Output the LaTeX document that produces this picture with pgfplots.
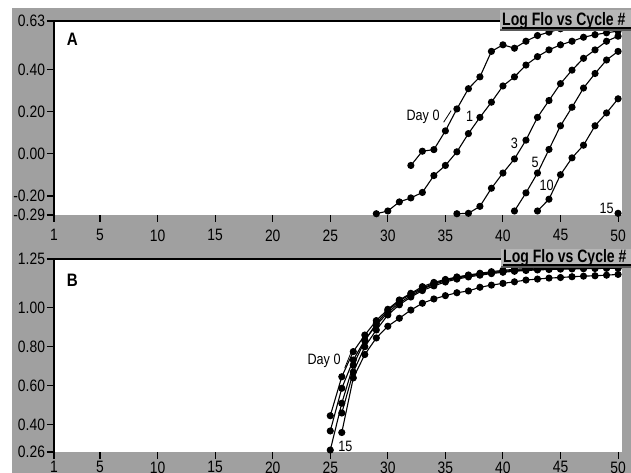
\documentclass[border=0pt]{standalone}
\usepackage{fontspec}
\setmainfont{Liberation Sans}[FakeStretch=0.84]
\newfontfamily\titlefont{Liberation Sans}[FakeStretch=0.78]
\usepackage{pgfplots}
\pgfplotsset{compat=1.18}
\definecolor{bggray}{RGB}{160,160,160}
\definecolor{boxgray}{RGB}{182,182,182}
\definecolor{shadow}{RGB}{90,90,90}

\pgfplotsset{
  panel/.style={
    scale only axis, width=567.5pt,
    xmin=1, xmax=50.3,
    axis background/.style={fill=white},
    axis line style={draw=none},
    xtick={1,5,10,15,20,25,30,35,40,45,50},
    xticklabels={1,5,10,15,20,25,30,35,40,45,50},
    tick align=outside, major tick length=7pt,
    xtick pos=bottom, ytick pos=left,
    tick style={black, line width=1.1pt},
    ticklabel style={font=\fontsize{16.5}{16.5}\selectfont},
    yticklabel style={xshift=1.5pt},
    clip=false,
    every axis plot post/.append style={black, line width=1.1pt, mark=*, mark size=3pt, mark options={solid}},
  }
}

\begin{document}
\begin{tikzpicture}
\useasboundingbox (0pt,0pt) rectangle (631pt,473pt);
\fill[white] (0pt,0pt) rectangle (631pt,473pt);
\fill[bggray] (12pt,0pt) rectangle (640pt,465pt);

% ---------------- Panel A ----------------
\begin{axis}[panel, at={(54pt,258pt)}, anchor=south west, height=194pt,
  xticklabel style={yshift=-4pt},
  ymin=-0.29, ymax=0.63,
  ytick={-0.29,-0.2,0,0.2,0.4,0.63},
  yticklabels={-0.29,-0.20,0.00,0.20,0.40,0.63}]
\addplot coordinates {(32,-0.055)(33,0.0125)(34,0.02)(35,0.109)(36,0.213)(37,0.309)(38,0.365)(39,0.486)(40,0.517)(41,0.501)(42,0.534)(43,0.561)(44,0.577)(45,0.593)(46,0.603)(47,0.600)(48,0.610)(49,0.615)(50,0.620)};
\addplot coordinates {(29,-0.284)(30,-0.271)(31,-0.228)(32,-0.209)(33,-0.183)(34,-0.103)(35,-0.055)(36,0.0096)(37,0.096)(38,0.173)(39,0.245)(40,0.322)(41,0.365)(42,0.421)(43,0.461)(44,0.493)(45,0.517)(46,0.534)(47,0.553)(48,0.565)(49,0.574)(50,0.582)};
\addplot coordinates {(36,-0.284)(37,-0.282)(38,-0.249)(39,-0.163)(40,-0.091)(41,-0.024)(42,0.065)(43,0.173)(44,0.253)(45,0.333)(46,0.397)(47,0.453)(48,0.493)(49,0.534)(50,0.558)};
\addplot coordinates {(41,-0.271)(42,-0.185)(43,-0.091)(44,0.021)(45,0.133)(46,0.221)(47,0.312)(48,0.381)(49,0.445)(50,0.486)};
\addplot coordinates {(43,-0.271)(44,-0.215)(45,-0.099)(46,-0.019)(47,0.041)(48,0.133)(49,0.194)(50,0.261)};
\addplot[mark=square*, mark size=2.5pt] coordinates {(50,-0.282)};
\draw[line width=1.6pt] (rel axis cs:0,0) -- (rel axis cs:0,1) -- (rel axis cs:1,1);
\node[font=\fontsize{18}{18}\selectfont\bfseries] at (axis cs:2.6,0.545) {A};
\node[anchor=east, font=\fontsize{15}{15}\selectfont] at (axis cs:34.8,0.176) {Day 0};
\draw[line width=0.8pt] (axis cs:34.85,0.150) -- (axis cs:35.5,0.205);
\node[font=\fontsize{15}{15}\selectfont] at (axis cs:37.1,0.176) {1};
\node[font=\fontsize{15}{15}\selectfont] at (axis cs:41.0,0.052) {3};
\node[font=\fontsize{15}{15}\selectfont] at (axis cs:42.8,-0.041) {5};
\node[font=\fontsize{15}{15}\selectfont] at (axis cs:43.8,-0.147) {10};
\node[font=\fontsize{15}{15}\selectfont] at (axis cs:49.0,-0.26) {15};
\end{axis}

% ---------------- Panel B ----------------
\begin{axis}[panel, at={(54pt,21pt)}, anchor=south west, height=193pt,
  ymin=0.26, ymax=1.25,
  xticklabel style={yshift=1pt},
  ytick={0.26,0.4,0.6,0.8,1.0,1.25},
  yticklabels={0.26,0.40,0.60,0.80,1.00,1.25}]
\addplot coordinates {(25,0.446)(26,0.646)(27,0.775)(28,0.86)(29,0.934)(30,0.992)(31,1.04)(32,1.074)(33,1.108)(34,1.13)(35,1.145)(36,1.158)(37,1.168)(38,1.177)(39,1.185)(40,1.192)(41,1.197)(42,1.201)(43,1.204)(44,1.207)(45,1.209)(46,1.211)(47,1.212)(48,1.213)(49,1.214)(50,1.215)};
\addplot coordinates {(25,0.368)(26,0.587)(27,0.732)(28,0.835)(29,0.91)(30,0.975)(31,1.025)(32,1.062)(33,1.095)(34,1.12)(35,1.138)(36,1.152)(37,1.163)(38,1.172)(39,1.18)(40,1.187)(41,1.192)(42,1.196)(43,1.2)(44,1.202)(45,1.204)(46,1.206)(47,1.207)(48,1.208)(49,1.209)(50,1.21)};
\addplot coordinates {(25,0.27)(26,0.51)(27,0.706)(28,0.83)(29,0.92)(30,0.985)(31,1.035)(32,1.07)(33,1.10)(34,1.125)(35,1.142)(36,1.155)(37,1.165)(38,1.173)(39,1.18)(40,1.186)(41,1.19)(42,1.194)(43,1.197)(44,1.199)(45,1.201)(46,1.202)(47,1.203)(48,1.204)(49,1.205)(50,1.205)};
\addplot coordinates {(26,0.46)(27,0.67)(28,0.80)(29,0.886)(30,0.963)(31,1.015)(32,1.055)(33,1.088)(34,1.112)(35,1.132)(36,1.147)(37,1.158)(38,1.167)(39,1.175)(40,1.182)(41,1.187)(42,1.191)(43,1.194)(44,1.196)(45,1.198)(46,1.199)(47,1.2)(48,1.201)(49,1.202)(50,1.203)};
\addplot coordinates {(26,0.36)(27,0.64)(28,0.76)(29,0.845)(30,0.905)(31,0.946)(32,0.988)(33,1.023)(34,1.045)(35,1.062)(36,1.077)(37,1.086)(38,1.105)(39,1.116)(40,1.125)(41,1.133)(42,1.142)(43,1.147)(44,1.152)(45,1.155)(46,1.159)(47,1.162)(48,1.164)(49,1.167)(50,1.171)};
\draw[line width=1.6pt] (rel axis cs:0,0) -- (rel axis cs:0,1) -- (rel axis cs:1,1);
\node[font=\fontsize{18}{18}\selectfont\bfseries] at (axis cs:2.6,1.139) {B};
\node[anchor=east, font=\fontsize{15}{15}\selectfont] at (axis cs:26.2,0.73) {Day 0};
\draw[line width=0.8pt] (axis cs:26.25,0.69) -- (axis cs:26.8,0.77);
\node[anchor=west, font=\fontsize{15}{15}\selectfont] at (axis cs:25.4,0.29) {15};
\end{axis}

% ---------------- title boxes ----------------
\fill[boxgray] (500pt,443pt) rectangle (640pt,463pt);
\draw[shadow, line width=1.5pt] (500pt,443pt) -- (640pt,443pt);
\node[anchor=base west, inner sep=0pt, font=\titlefont\fontsize{18}{18}\selectfont\bfseries] at (502pt,447pt) {Log Flo vs Cycle \#};
\draw[line width=1.2pt] (502pt,445pt) -- (640pt,445pt);

\fill[boxgray] (501pt,206pt) rectangle (640pt,224pt);
\draw[shadow, line width=1.5pt] (501pt,206pt) -- (640pt,206pt);
\node[anchor=base west, inner sep=0pt, font=\titlefont\fontsize{18}{18}\selectfont\bfseries] at (503pt,210pt) {Log Flo vs Cycle \#};
\draw[line width=1.2pt] (503pt,208pt) -- (640pt,208pt);
\end{tikzpicture}
\end{document}
